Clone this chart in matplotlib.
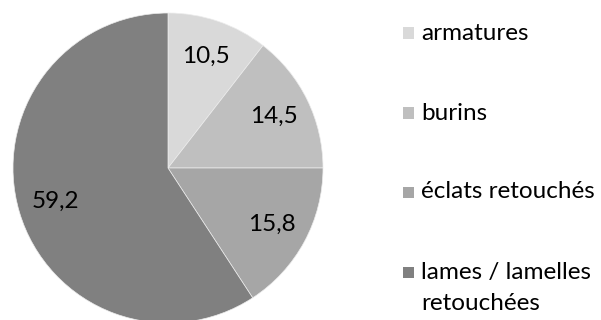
import matplotlib
matplotlib.use("Agg")
import matplotlib.pyplot as plt
from matplotlib.patches import Rectangle

categories = ["armatures", "burins", "éclats retouchés", "lames / lamelles\nretouchées"]
values = [10.5, 14.5, 15.8, 59.2]
colors = ["#d9d9d9", "#bfbfbf", "#a6a6a6", "#808080"]

plt.rcParams["font.family"] = ["Lato", "DejaVu Sans"]
FS = 17.5

W, H = 601, 320
fig = plt.figure(figsize=(W / 100, H / 100), dpi=100)

# pie area: centre (168, 168) px, radius 155 px
cx, cy, r = 168, 168, 155
ax = fig.add_axes([(cx - r) / W, (H - cy - r) / H, 2 * r / W, 2 * r / H])
wedges, texts, autotexts = ax.pie(
    values,
    colors=colors,
    startangle=90,
    counterclock=False,
    autopct=lambda p: f"{p:.1f}".replace(".", ","),
    pctdistance=0.76,
    radius=1.0,
    wedgeprops=dict(linewidth=0.5, edgecolor="#ececec"),
    textprops=dict(fontsize=FS, color="#000000"),
)
ax.set_xlim(-1, 1)
ax.set_ylim(-1, 1)
ax.set_aspect("equal")
ax.axis("off")

# legend: square marker + label, one row per category
legend_y = [33, 113, 192, 272]
for cat, col, y in zip(categories, colors, legend_y):
    fig.patches.append(Rectangle((403 / W, (H - y - 5.5) / H), 11 / W, 11 / H,
                                 transform=fig.transFigure, facecolor=col,
                                 edgecolor="none"))
    for k, line in enumerate(cat.split("\n")):
        fig.text(421 / W, (H - y - 31 * k) / H, line, fontsize=FS,
                 color="#000000", va="center", ha="left")

fig.savefig("out.png", dpi=100, facecolor="white")
